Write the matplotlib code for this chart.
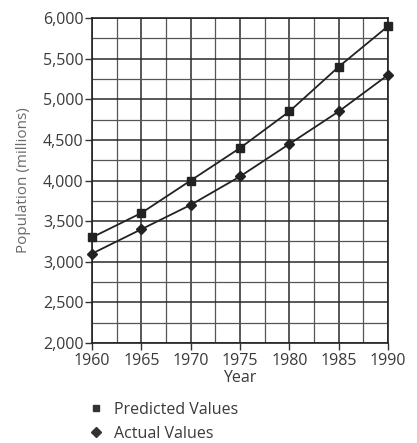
import matplotlib.pyplot as plt
from matplotlib.ticker import MultipleLocator, FuncFormatter
from matplotlib.lines import Line2D

# Dados
anos = [1960, 1965, 1970, 1975, 1980, 1985, 1990]
previsto = [3300, 3600, 4000, 4400, 4850, 5400, 5900]
real = [3100, 3400, 3700, 4050, 4450, 4850, 5300]

plt.rcParams['font.family'] = ['Open Sans', 'DejaVu Sans']
cor_texto = '#3a3a3a'

fig = plt.figure(figsize=(4.17, 4.43), dpi=100)
ax = fig.add_axes([0.2206, 0.2257, 0.710, 0.7336])

# Grade
ax.set_xlim(1960, 1990)
ax.set_ylim(2000, 6000)
ax.xaxis.set_major_locator(MultipleLocator(5))
ax.xaxis.set_minor_locator(MultipleLocator(2.5))
ax.yaxis.set_major_locator(MultipleLocator(500))
ax.yaxis.set_minor_locator(MultipleLocator(250))
ax.grid(which='major', color='#2a2a2a', linewidth=1.1)
ax.grid(which='minor', color='#555555', linewidth=0.9)
ax.set_axisbelow(True)
for lado in ax.spines.values():
    lado.set_color('#222222')
    lado.set_linewidth(1.2)

ax.yaxis.set_major_formatter(FuncFormatter(lambda v, p: f'{int(v):,}'))
ax.tick_params(which='major', length=5, width=1, color='#333333',
               labelsize=11.5, labelcolor=cor_texto, pad=1)
ax.tick_params(axis='x', which='major', pad=2)
ax.tick_params(which='minor', length=0)

# Séries
ax.plot(anos, previsto, color='#222222', linewidth=1.3, marker='s',
        markersize=6, clip_on=False, zorder=3)
ax.plot(anos, real, color='#222222', linewidth=1.3, marker='D',
        markersize=5.5, clip_on=False, zorder=3)

ax.set_xlabel('Year', fontsize=11.5, color=cor_texto, labelpad=1)
ax.set_ylabel('Population (millions)', fontsize=11, color='#6a6a6a', labelpad=9)

# Legenda abaixo do gráfico
alcas = [Line2D([], [], linestyle='', marker='s', color='#333333', markersize=5),
         Line2D([], [], linestyle='', marker='D', color='#333333', markersize=5.5)]
fig.legend(alcas, ['Predicted Values', 'Actual Values'], loc='upper left',
           bbox_to_anchor=(0.215, 0.093), frameon=False, fontsize=11.5,
           labelcolor=cor_texto, handlelength=0.8, handletextpad=0.7,
           labelspacing=0.5, borderaxespad=0, borderpad=0)

plt.savefig('out.png', dpi=100)
